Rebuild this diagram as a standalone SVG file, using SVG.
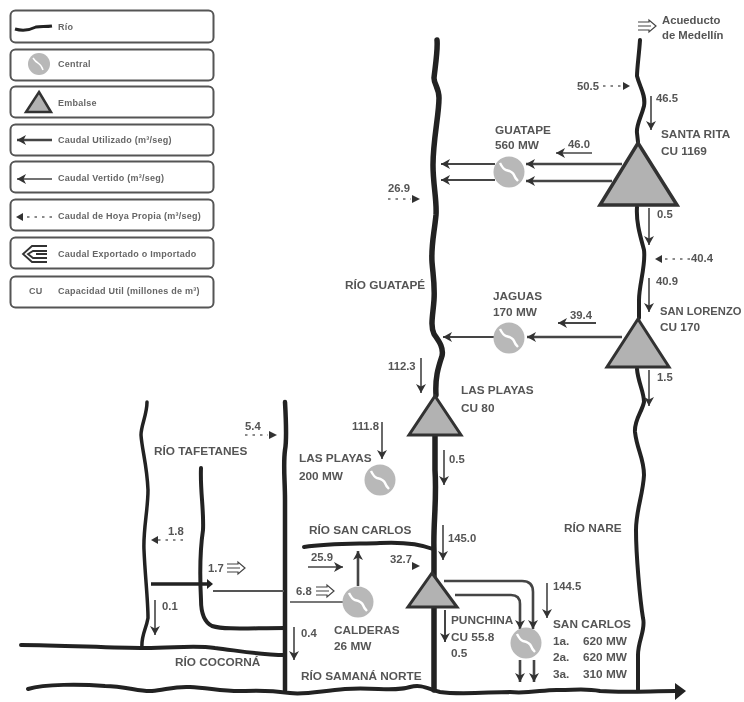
<svg xmlns="http://www.w3.org/2000/svg" width="744" height="702" viewBox="0 0 744 702">
<style>
text{font-family:"Liberation Sans",Arial,sans-serif;font-weight:700;fill:#555;font-size:11.8px}
.n{font-size:11.3px}
.s{font-size:9px;letter-spacing:.25px;fill:#666}
.box{fill:#fff;stroke:#555;stroke-width:2}
.riv{fill:none;stroke:#222;stroke-width:4;stroke-linejoin:round;stroke-linecap:round}
.tri{fill:#b2b2b2;stroke:#333;stroke-width:3;stroke-linejoin:miter}
.cir{fill:#b8b8b8}
.sw{fill:none;stroke:#fff;stroke-width:2.400}
.a{fill:none;stroke:#444;stroke-width:1.600;marker-end:url(#h)}
.b{fill:none;stroke:#444;stroke-width:2.600;marker-end:url(#h)}
.d{fill:none;stroke:#666;stroke-width:1.400;stroke-dasharray:2.500 5}
.e{fill:none;stroke:#444;stroke-width:1.200}
</style>
<defs>
<filter id="soft" x="0" y="0" width="100%" height="100%" filterUnits="objectBoundingBox"><feGaussianBlur stdDeviation="0.55"/></filter>
<marker id="h" markerUnits="userSpaceOnUse" markerWidth="12" markerHeight="12" refX="9" refY="5" orient="auto"><path d="M0 0L9 5L0 10L2.500 5Z" fill="#333"/></marker>
<g id="ex"><path class="e" d="M-9 -4H2V-6L9 0L2 6V4H-9M-9 0H4"/></g>
<g id="gen"><circle class="cir" r="15.500"/><path class="sw" d="M-9 -9C-7 -5 -6 -3 -3 -2C1 -1 4 0 5 3C6 6 7 7 9 9"/></g>
</defs>
<g filter="url(#soft)">
<rect x="0" y="0" width="744" height="702" fill="#fff"/>
<g id="legend">
<g id="leg-rio"><rect class="box" x="10.500" y="10.500" width="203" height="32" rx="5"/><path d="M15 29C22 31 30 30 36 27C40 26 46 27 52 26" fill="none" stroke="#222" stroke-width="3"/><text class="s" x="58" y="30">Río</text></g>
<g id="leg-central"><rect class="box" x="10.500" y="49.500" width="203" height="31" rx="5"/><circle class="cir" cx="39" cy="64" r="11"/><path class="sw" d="M33 58C35 61 36 62 38 63C41 65 42 66 43 70" style="stroke-width:1.500"/><text class="s" x="58" y="67">Central</text></g>
<g id="leg-embalse"><rect class="box" x="10.500" y="86.500" width="203" height="31" rx="5"/><path class="tri" style="stroke-width:2.500" d="M39 92L51 112H26Z"/><text class="s" x="58" y="106">Embalse</text></g>
<g id="leg-util"><rect class="box" x="10.500" y="124.500" width="203" height="31" rx="5"/><path class="b" d="M52 140H17"/><text class="s" x="58" y="143">Caudal Utilizado (m³/seg)</text></g>
<g id="leg-vert"><rect class="box" x="10.500" y="161.500" width="203" height="31" rx="5"/><path class="a" d="M52 179H17"/><text class="s" x="58" y="181">Caudal Vertido (m³/seg)</text></g>
<g id="leg-hoya"><rect class="box" x="10.500" y="199.500" width="203" height="31" rx="5"/><path class="d" d="M52 217H24"/><path d="M23 213L16 217L23 221Z" fill="#333"/><text class="s" x="58" y="219">Caudal de Hoya Propia (m³/seg)</text></g>
<g id="leg-exp"><rect class="box" x="10.500" y="237.500" width="203" height="31" rx="5"/><path d="M47 246H32L23 254L32 262H47M47 251H33L28 254L33 258H47M36 254H47" fill="none" stroke="#333" stroke-width="1.800"/><text class="s" x="58" y="257">Caudal Exportado o Importado</text></g>
<g id="leg-cu"><rect class="box" x="10.500" y="276.500" width="203" height="31" rx="5"/><text class="s" x="29" y="294">CU</text><text class="s" x="58" y="294">Capacidad Util (millones de m³)</text></g>
</g>

<g id="rivers">
<path class="riv" style="stroke-width:5.500" d="M437 40C438 50 435 68 434 78C434 84 439 88 439 98C439 115 433 140 433 165C433 185 437 200 436 215C434 235 431 245 432 262C433 275 435 285 434 300C433 315 430 325 434 334C438 340 444 347 442 356C438 368 435 378 436 395M435 436V470C437 500 433 525 434 550V690"/>
<path class="riv" d="M640 40C639 55 637 68 637 76C640 88 646 95 644 106C641 118 636 125 637 133L638 142M637 207C636 222 640 235 644 250C646 265 639 285 639 300V318M637 369C638 382 644 392 644 402C642 412 634 420 635 432C637 450 644 458 644 475C643 495 636 510 636 530C636 555 640 600 643 618C646 630 638 640 638 655V690"/>
<path class="riv" d="M28 689C45 684 80 684 105 686C125 686 140 692 152 691C165 690 175 686 190 687C210 688 225 692 245 691C265 690 275 691 290 693C305 695 320 691 345 689C375 687 395 692 410 687C422 684 428 689 440 692C460 695 490 692 510 692C530 694 545 689 560 690C575 690 585 688 600 691C625 693 650 691 676 691"/>
<path d="M675 683L686 691L675 700Z" fill="#222"/>
<path class="riv" d="M21 645C60 645 110 648 145 648C175 648 195 645 215 648C240 651 262 655 285 655"/>
<path class="riv" style="stroke-width:3.500" d="M147 402C147 415 141 425 141 435C142 450 147 465 148 490C148 510 143 530 144 550C145 575 148 600 148 618C146 630 141 635 142 648"/>
<path class="riv" d="M201 468C200 490 204 510 203 530C200 550 200 580 201 600C201 612 204 622 212 626C225 630 250 628 285 628"/>
<path class="riv" style="stroke-width:4.500" d="M285 402C286 420 287 440 285 450C283 465 285 480 285 500V690"/>
<path class="riv" d="M304 547C330 543 360 544 380 543C400 542 420 544 433 549"/>
</g>

<g id="connectors">
<path class="b" d="M622 164H526"/><path class="b" d="M612 181H526"/>
<path class="b" style="stroke-width:2.200" d="M495 164H441"/><path class="a" style="stroke-width:2" d="M495 180H441"/>
<path class="a" d="M592 153H556"/>
<path class="b" d="M622 337H527"/><path class="b" style="stroke-width:2" d="M494 337H443"/>
<path class="a" style="stroke-width:1.800" d="M596 323H558"/>
<path class="a" d="M651 96V130"/><path class="a" d="M649 208V245"/><path class="a" d="M649 278V312"/><path class="a" d="M649 370V406"/>
<path class="a" d="M421 358V393"/><path class="a" d="M444 450V485"/><path class="a" d="M443 525V560"/><path class="a" d="M382 422V459"/>
<path class="a" d="M547 583V618"/><path class="b" style="stroke-width:2" d="M445 610V642"/><path class="a" d="M294 627V660"/><path class="a" d="M155 600V635"/>
<path class="d" d="M603 86H622"/><path d="M623 82L630 86L623 90Z" fill="#333"/>
<path class="d" d="M690 259H663"/><path d="M662 255L655 259L662 263Z" fill="#333"/>
<path class="d" d="M388 199H411"/><path d="M412 195L420 199L412 203Z" fill="#333"/>
<path class="d" d="M245 435H268"/><path d="M269 431L277 435L269 439Z" fill="#333"/>
<path class="d" d="M183 540H158"/><path d="M158 536L151 540L158 544Z" fill="#333"/>
<path d="M412 562L420 566L412 570Z" fill="#333"/>
<path class="a" d="M308 567H343"/>
<path class="b" d="M358 586V551"/>
<path class="a" style="stroke:#777;stroke-width:2;marker-end:none" d="M290 602H343"/>
<path d="M151 584H208" fill="none" stroke="#222" stroke-width="3.500"/><path d="M207 579L213 584L207 589Z" fill="#222"/>
<path d="M213 591H284" fill="none" stroke="#555" stroke-width="2"/>
<path class="b" d="M444 581H522Q533 581 533 592V629"/>
<path class="b" d="M455 595H511Q520 595 520 604V629"/>
<path class="b" d="M520 660V682"/><path class="b" d="M534 660V682"/>
</g>

<g id="santa-rita"><path class="tri" style="stroke-width:3.500" d="M638 143L677 205H600Z"/><text x="661" y="138">SANTA RITA</text><text x="661" y="155">CU 1169</text></g>
<g id="san-lorenzo"><path class="tri" d="M638 319L669 367H607Z"/><text x="660" y="315" style="font-size:11.200px">SAN LORENZO</text><text x="660" y="331">CU 170</text></g>
<g id="las-playas-emb"><path class="tri" d="M435 396L461 435H409Z"/><text x="461" y="394">LAS PLAYAS</text><text x="461" y="412">CU 80</text></g>
<g id="punchina"><path class="tri" d="M432 573L457 607H408Z"/><text x="451" y="624">PUNCHINA</text><text x="451" y="641">CU 55.8</text><text x="451" y="657">0.5</text></g>
<g id="guatape"><use href="#gen" x="509" y="172"/><text x="495" y="134">GUATAPE</text><text x="495" y="149">560 MW</text></g>
<g id="jaguas"><use href="#gen" x="509" y="338"/><text x="493" y="300">JAGUAS</text><text x="493" y="316">170 MW</text></g>
<g id="las-playas-cen"><use href="#gen" x="380" y="480"/><text x="299" y="462">LAS PLAYAS</text><text x="299" y="480">200 MW</text></g>
<g id="calderas"><use href="#gen" x="358" y="602"/><text x="334" y="634">CALDERAS</text><text x="334" y="650">26 MW</text></g>
<g id="san-carlos"><use href="#gen" x="526" y="643"/><text x="553" y="628">SAN CARLOS</text><text x="553" y="645">1a.</text><text x="583" y="645">620 MW</text><text x="553" y="661">2a.</text><text x="583" y="661">620 MW</text><text x="553" y="678">3a.</text><text x="583" y="678">310 MW</text></g>

<g id="exports">
<use href="#ex" x="647" y="26"/><use href="#ex" x="236" y="568"/><use href="#ex" x="325" y="591"/>
</g>

<g id="labels">
<text x="662" y="24" style="font-size:11.300px">Acueducto</text><text x="662" y="39" style="font-size:11.300px">de Medellín</text>
<text class="n" x="577" y="90">50.5</text><text class="n" x="656" y="102">46.5</text>
<text class="n" x="568" y="148">46.0</text><text class="n" x="388" y="192">26.9</text>
<text class="n" x="657" y="218">0.5</text><text class="n" x="691" y="262">40.4</text><text class="n" x="656" y="285">40.9</text>
<text class="n" x="570" y="319">39.4</text><text x="345" y="289">RÍO GUATAPÉ</text><text class="n" x="388" y="370">112.3</text>
<text class="n" x="657" y="381">1.5</text><text class="n" x="449" y="463">0.5</text><text class="n" x="352" y="430">111.8</text>
<text class="n" x="245" y="430">5.4</text><text x="154" y="455">RÍO TAFETANES</text><text class="n" x="168" y="535">1.8</text>
<text class="n" x="208" y="572">1.7</text><text x="309" y="534">RÍO SAN CARLOS</text><text class="n" x="448" y="542">145.0</text>
<text class="n" x="311" y="561">25.9</text><text class="n" x="390" y="563">32.7</text><text class="n" x="296" y="595">6.8</text>
<text class="n" x="553" y="590">144.5</text><text class="n" x="162" y="610">0.1</text><text class="n" x="301" y="637">0.4</text>
<text x="175" y="666">RÍO COCORNÁ</text><text x="301" y="680">RÍO SAMANÁ NORTE</text><text x="564" y="532">RÍO NARE</text>
</g>
</g>
</svg>
